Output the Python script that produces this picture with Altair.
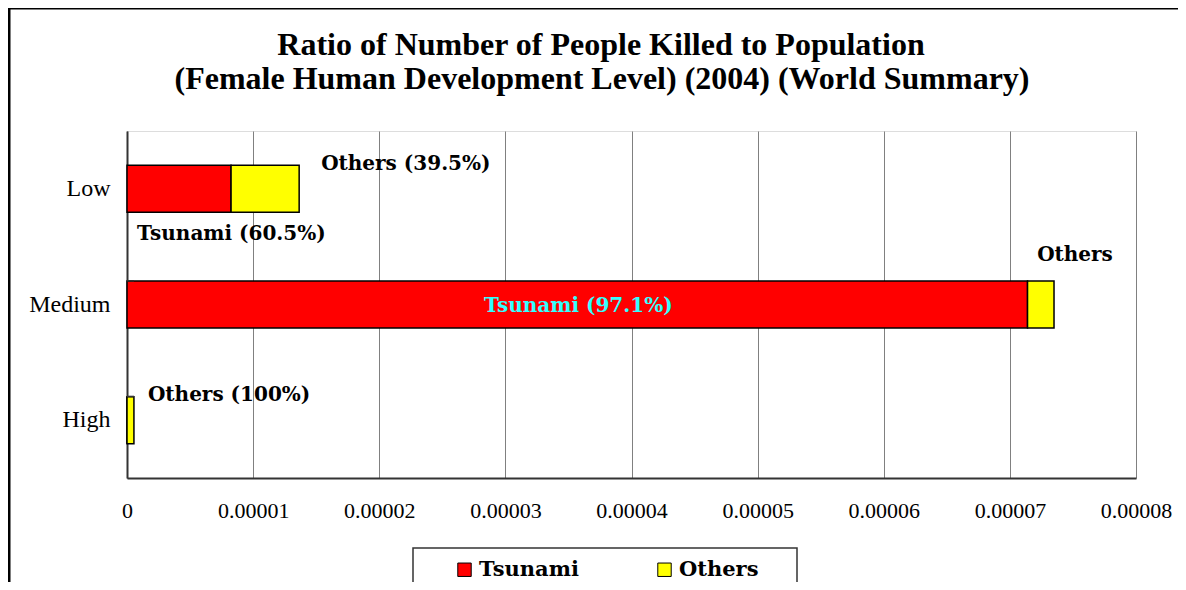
import altair as alt
import pandas as pd

categories = ["Low", "Medium", "High"]
series = ["Tsunami", "Others"]
tsunami = [8.25e-6, 7.14e-5, 0.0]
others = [5.4e-6, 2.1e-6, 5.5e-7]
x_ticks = [0, 0.00001, 0.00002, 0.00003, 0.00004, 0.00005, 0.00006, 0.00007, 0.00008]
colors = ["#FF0000", "#FFFF00"]
title_lines = ["Ratio of Number of People Killed to Population",
               "(Female Human Development Level) (2004) (World Summary)"]

rows = []
for c, t, o in zip(categories, tsunami, others):
    rows.append({"cat": c, "series": "Tsunami", "start": 0.0, "end": t, "order": 0})
    rows.append({"cat": c, "series": "Others", "start": t, "end": t + o, "order": 1})
df = pd.DataFrame(rows)

W, H = 1009, 347
SERIF = "Liberation Serif"
BOLD = "DejaVu Serif"

xscale = alt.Scale(domain=[0, 0.00008], nice=False, zero=True)
yscale = alt.Scale(domain=categories, paddingInner=0.59, paddingOuter=0.295)

bars = alt.Chart(df).mark_bar(size=47, stroke="black", strokeWidth=1.5).encode(
    x=alt.X("start:Q", scale=xscale,
            axis=alt.Axis(values=x_ticks, title=None, grid=True, gridColor="#808080", gridWidth=1,
                          labelFont=SERIF, labelFontSize=22, labelColor="black", labelPadding=22,
                          labelFlush=False, labelOverlap=False,
                          domainColor="#333333", domainWidth=2, ticks=False,
                          labelExpr="datum.value == 0 ? '0' : format(datum.value, '.5f')")),
    x2="end:Q",
    y=alt.Y("cat:N", scale=yscale, sort=categories,
            axis=alt.Axis(title=None, labelFont=SERIF, labelFontSize=24, labelColor="black",
                          labelPadding=17, ticks=False, domainColor="#333333", domainWidth=2)),
    color=alt.Color("series:N", scale=alt.Scale(domain=series, range=colors),
                    legend=alt.Legend(title=None, orient="none", legendX=327, legendY=428,
                                      direction="horizontal", symbolType="square", symbolSize=180,
                                      symbolStrokeColor="black", symbolStrokeWidth=1,
                                      labelFont=BOLD, labelFontWeight="bold", labelFontSize=21,
                                      labelColor="black", columnPadding=75, labelOffset=4)),
    order="order:Q",
)

tick_df = pd.DataFrame({"cat": categories[1:]})
yticks = alt.Chart(tick_df).mark_rule(color="#333333", strokeWidth=1.5).encode(
    y=alt.Y("cat:N", scale=yscale, sort=categories, bandPosition=0),
    x=alt.value(0), x2=alt.value(7),
)

tot = pd.DataFrame({"cat": categories, "tsunami": tsunami,
                    "total": [t + o for t, o in zip(tsunami, others)]})
tot["mid"] = tot["tsunami"] / 2
ann_text = {
    "low_others": "Others (39.5%)",
    "low_tsunami": "Tsunami (60.5%)",
    "med_others": "Others",
    "med_tsunami": "Tsunami (97.1%)",
    "high_others": "Others (100%)",
}
FS = 20

def ann(cat, field, text, dx, dy, align="left", color="black"):
    return alt.Chart(tot).transform_filter(alt.datum.cat == cat).mark_text(
        text=text, align=align, baseline="middle", dx=dx, dy=dy,
        font=BOLD, fontWeight="bold", fontSize=FS, color=color,
    ).encode(x=alt.X(f"{field}:Q", scale=xscale),
             y=alt.Y("cat:N", scale=yscale, sort=categories))

anns = [
    ann("Low", "total", ann_text["low_others"], 22, -25),
    ann("Medium", "total", ann_text["med_others"], 21, -50, align="center"),
    ann("Medium", "mid", ann_text["med_tsunami"], 1, 1.5, align="center", color="#33FFFF"),
    ann("High", "total", ann_text["high_others"], 14, -25),
    alt.Chart(tot).transform_filter(alt.datum.cat == "Low").mark_text(
        text=ann_text["low_tsunami"], align="left", baseline="middle", dx=10, dy=45,
        font=BOLD, fontWeight="bold", fontSize=FS, color="black",
    ).encode(x=alt.value(0), y=alt.Y("cat:N", scale=yscale, sort=categories)),
]

one = pd.DataFrame({"k": [0]})
legend_box = alt.Chart(one).mark_rect(fill="white", stroke="#333333", strokeWidth=1.5).encode(
    x=alt.value(286), x2=alt.value(670), y=alt.value(417), y2=alt.value(458))
frame_left = alt.Chart(one).mark_rule(color="black", strokeWidth=3).encode(
    x=alt.value(-118), y=alt.value(-123), y2=alt.value(470))
frame_top = alt.Chart(one).mark_rule(color="black", strokeWidth=3).encode(
    y=alt.value(-123), x=alt.value(-119), x2=alt.value(1060))
title1 = alt.Chart(one).mark_text(text=title_lines[0], font=SERIF, fontSize=32, fontWeight="bold",
                                  color="black", align="center", baseline="middle").encode(
    x=alt.value(474), y=alt.value(-86))
title2 = alt.Chart(one).mark_text(text=title_lines[1], font=SERIF, fontSize=32, fontWeight="bold",
                                  color="black", align="center", baseline="middle").encode(
    x=alt.value(475), y=alt.value(-52))

chart = alt.layer(frame_left, frame_top, title1, title2, legend_box, bars, yticks, *anns).properties(
    width=W, height=H,
    autosize=alt.AutoSizeParams(type="none"),
    padding={"left": 119, "top": 123, "right": 42, "bottom": 104},
).configure_view(stroke="#808080", strokeWidth=1.5).configure(background="white")

chart.save("out.html", embed_options={"renderer": "svg", "actions": False})
